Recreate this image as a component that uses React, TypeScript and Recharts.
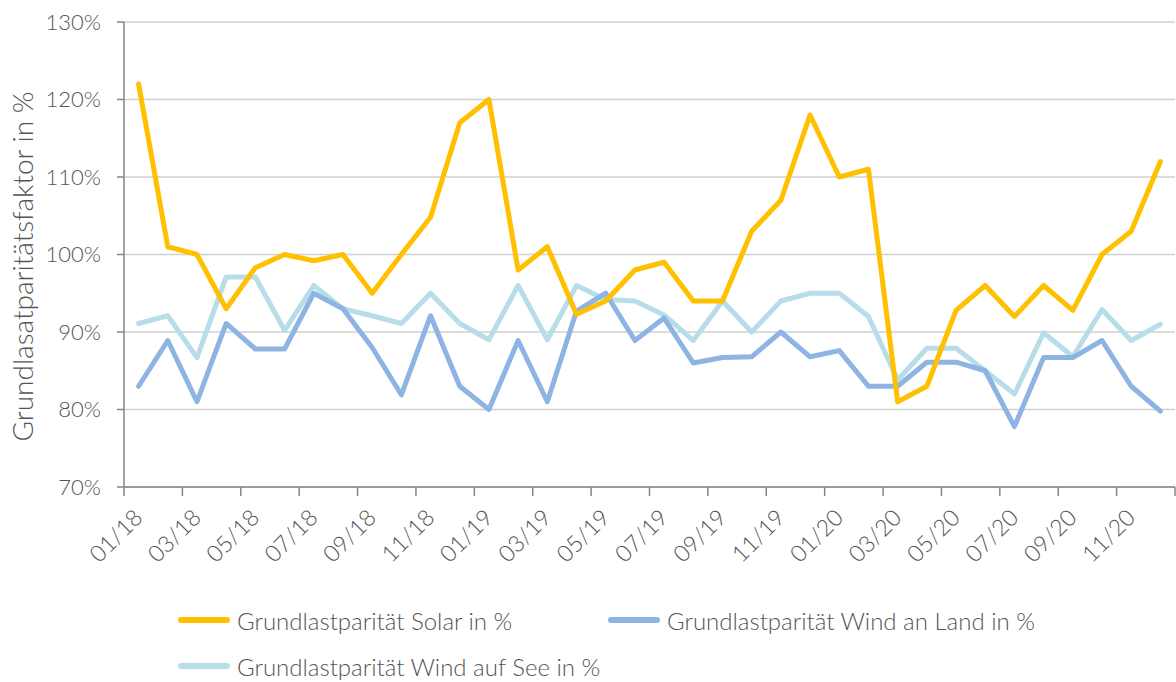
import React from 'react';
import {
  LineChart,
  Line,
  XAxis,
  YAxis,
  CartesianGrid,
  Label
} from 'recharts';

const months = [
  '01/18', '02/18', '03/18', '04/18', '05/18', '06/18', '07/18', '08/18', '09/18', '10/18', '11/18', '12/18',
  '01/19', '02/19', '03/19', '04/19', '05/19', '06/19', '07/19', '08/19', '09/19', '10/19', '11/19', '12/19',
  '01/20', '02/20', '03/20', '04/20', '05/20', '06/20', '07/20', '08/20', '09/20', '10/20', '11/20', '12/20'
];

const solar = [
  122, 101, 100, 93, 98.3, 100, 99.2, 100, 95, 100, 104.8, 117,
  120, 98, 101, 92.3, 94, 98, 99, 94, 94, 103, 107, 118,
  110, 111, 81, 83, 92.8, 96, 92, 96, 92.8, 100, 103, 112
];

const windLand = [
  83, 88.9, 81, 91.1, 87.8, 87.8, 95, 93, 88, 81.9, 92.1, 83,
  80, 88.9, 81, 92.7, 95, 88.9, 91.8, 86, 86.7, 86.8, 90, 86.8,
  87.6, 83, 83, 86.1, 86.1, 85, 77.8, 86.7, 86.7, 88.9, 83, 79.8
];

const windSee = [
  91.1, 92.1, 86.7, 97.1, 97.1, 90.2, 96, 93, 92.1, 91.1, 95, 91.1,
  89, 96, 89, 96, 94.2, 94, 92.2, 88.9, 94, 90, 94, 95,
  95, 92, 83.8, 87.9, 87.9, 85, 82, 89.9, 86.8, 92.9, 88.9, 91
];

const yTicks = [70, 80, 90, 100, 110, 120, 130];
const xTicks = [0, 2, 4, 6, 8, 10, 12, 14, 16, 18, 20, 22, 24, 26, 28, 30, 32, 34, 36];

const legendItems = [
  { key: 'solar', label: 'Grundlastparität Solar in %', color: '#FFC000' },
  { key: 'windLand', label: 'Grundlastparität Wind an Land in %', color: '#8EB4E3' },
  { key: 'windSee', label: 'Grundlastparität Wind auf See in %', color: '#B7DEE8' }
];

const FONT = 'Lato, "Open Sans", sans-serif';
const TEXT = '#555555';
const AXIS = '#868686';
const WEIGHT = 300;

const data = months.map((m, i) => ({
  x: i + 0.5,
  month: m,
  solar: solar[i],
  windLand: windLand[i],
  windSee: windSee[i]
}));

const MonthTick = (props: any) => {
  const { x, y, payload } = props;
  const label = months[payload.value];
  if (!label) return null;
  const tx = x + 20;
  const ty = y + 21;
  return (
    <text
      x={tx}
      y={ty}
      transform={`rotate(-45, ${tx}, ${ty})`}
      textAnchor="end"
      fill={TEXT}
      fontSize={23}
      fontWeight={WEIGHT}
      fontFamily={FONT}
    >
      {label}
    </text>
  );
};

const YTitle = (props: any) => {
  const { viewBox } = props;
  const cx = viewBox.x + 22;
  const cy = viewBox.y + viewBox.height / 2 + 12;
  return (
    <text
      x={cx}
      y={cy}
      transform={`rotate(-90, ${cx}, ${cy})`}
      textAnchor="middle"
      dominantBaseline="central"
      fill={TEXT}
      fontSize={28}
      fontWeight={WEIGHT}
      fontFamily={FONT}
    >
      Grundlasatparitätsfaktor in %
    </text>
  );
};

export default function App() {
  return (
    <div style={{ position: 'absolute', left: 0, top: 0, width: 1176, height: 682, background: '#fff', fontFamily: FONT }}>
      <LineChart width={1176} height={682} data={data} margin={{ top: 22, right: 1, left: 0, bottom: 0 }}>
        <CartesianGrid horizontal vertical={false} stroke="#d0d0d0" strokeWidth={1.5} />
        <XAxis
          type="number"
          dataKey="x"
          domain={[0, 36]}
          ticks={xTicks}
          interval={0}
          height={195}
          tickSize={9}
          axisLine={{ stroke: AXIS, strokeWidth: 1.5 }}
          tickLine={{ stroke: AXIS, strokeWidth: 1.5 }}
          tick={<MonthTick />}
        />
        <YAxis
          domain={[70, 130]}
          ticks={yTicks}
          interval={0}
          width={124}
          tickSize={7}
          tickMargin={16}
          tickFormatter={(v: number) => `${v}%`}
          axisLine={{ stroke: AXIS, strokeWidth: 1.5 }}
          tickLine={{ stroke: AXIS, strokeWidth: 1.5 }}
          tick={{ fill: TEXT, fontSize: 22, fontWeight: WEIGHT, fontFamily: FONT }}
        >
          <Label content={<YTitle />} />
        </YAxis>
        {legendItems.slice().reverse().map(item => (
          <Line
            key={item.key}
            type="linear"
            dataKey={item.key}
            stroke={item.color}
            strokeWidth={5}
            strokeLinejoin="round"
            strokeLinecap="round"
            dot={false}
            activeDot={false}
            isAnimationActive={false}
          />
        ))}
      </LineChart>
      <div style={{ position: 'absolute', left: 178, top: 597, width: 900 }}>
        {[legendItems.slice(0, 2), legendItems.slice(2)].map((row, r) => (
          <div key={r} style={{ display: 'flex', height: 46, alignItems: 'center' }}>
            {row.map(item => (
              <div key={item.key} style={{ display: 'flex', alignItems: 'center', width: 430 }}>
                <div style={{ width: 52, height: 6, borderRadius: 3, background: item.color, marginRight: 7 }} />
                <span style={{ color: TEXT, fontSize: 24, fontWeight: WEIGHT, fontFamily: FONT }}>{item.label}</span>
              </div>
            ))}
          </div>
        ))}
      </div>
    </div>
  );
}
